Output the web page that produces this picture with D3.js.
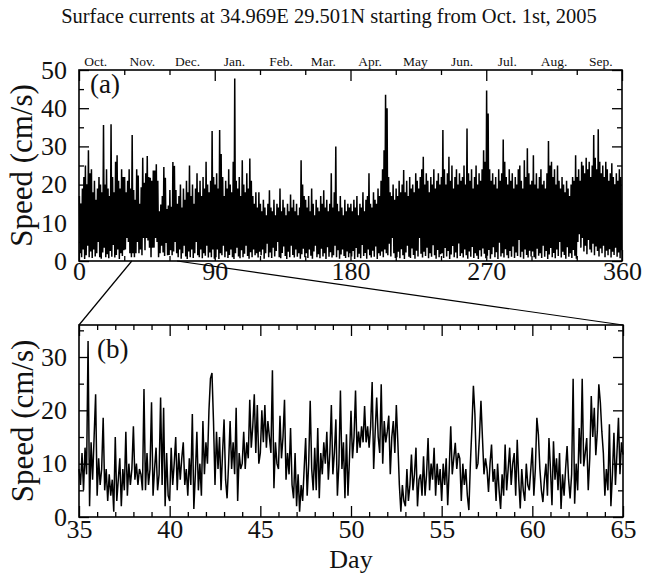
<!DOCTYPE html>
<html>
<head>
<meta charset="utf-8">
<script src="https://cdn.jsdelivr.net/npm/d3@7"></script>
<style>
  body { margin: 0; background: #fff; }
  svg text { font-family: "Liberation Serif", "Times New Roman", serif; fill: #111; }
</style>
</head>
<body>
<svg id="chart" width="645" height="574"></svg>
<script>
// month names on the top axis of panel (a), and the day each month starts
var months = ["Oct.", "Nov.", "Dec.", "Jan.", "Feb.", "Mar.", "Apr.", "May", "Jun.", "Jul.", "Aug.", "Sep."];
var monthStart = [0, 31, 61, 92, 123, 151, 182, 212, 243, 273, 304, 335];

var yearTicks = [0, 90, 180, 270, 360];
var speedTicksA = [0, 10, 20, 30, 40, 50];
var speedTicksB = [0, 10, 20, 30];
var zoomTicks = [35, 40, 45, 50, 55, 60, 65];

// panel (a): daily max and min speed (cm/s), day 0..359
var dailyHi = [
  17,15,19,22,25, 20,29,23,24,18, 21,16,19,22,20, 18,35.6,20,24,19, 17,35.8,22,18,26, 27.7,21,19,24,22,
  22,18,21,24,19, 33,18.6,16,24,22.4, 15,19.3,27,20.5,23, 27.5,22,21.8,21,23.7, 23.7,25.3,21,13,14.8, 17,24.6,21.8,13.6,14.5,
  18.6,14.2,25.9,24.9,18.6, 15,17,20,14,19, 16,21,18,25,17, 20,15,19,23,18, 21,17,22,19,26, 20,18,21,34,22,
  20,23,19,34.3,28, 22,17,21,19,24, 20,18,26,47.8,21, 19,22,17,26.4,20, 18,23,19,26.8,21, 17,15,18,14,18,
  15,13,16,14,12, 15,18.5,14,13,16, 12,15,14,19,13, 16,14,12,15,13, 17.4,14,16,13,15, 12,14,26.4,20,17,
  16,14,17,13,19, 15,12,16,14,13, 17,15,18.5,14,16, 13,15,23,14,18, 30,15,13,17,14, 12,16,13,15,14,
  15,13,16,14,17, 12,15,14,18,13, 16,17,23,15,14, 18,16,15,19,17, 21,24,29,43.5,40, 22,18,17,20,16,
  19,17,21,18,20, 23.8,18,21,17,22, 19,20,18,23,21, 19,22,24,27.3,20, 23,21,18,22,20, 24,19,21,23,20,
  22,34.3,24,20,23, 27.3,21,25,19,22, 24,20,23,21,22, 25,20,34.7,23,21, 24,19,22,25,20, 23,21,24,29,26,
  44.6,38.6,24,21,23, 20,22,19,24,21, 23,31.8,26,22,20, 24,21,23,19,22, 20,24,25,21,19, 26.4,22,29.5,23,20,
  21,27.7,20,23,19, 22,24,20,21,19, 23,31.4,25,26,22, 24,20,25,21,19, 22,20,18,21,19, 17,20,22,21,27.7,
  22,24,21,26,25, 23,27,24,26,22, 25,33,27,24,34.5, 26,23,25,22,26, 24,21,23,25.6,22, 20,23,21,24,22
];
var dailyLo = [
  2,1,3,0.5,1.5, 4,1,2.5,0.8,3, 1.2,2,5,1,0.6, 2.2,3.5,1,1.8,0.7, 2.6,1.1,4.2,0.9,1.6, 3,0.5,2,1.3,2.8,
  3,6,5,2,1, 2,1,2,5,2, 3,1.5,6,2.8,6, 5.4,3.5,1,3.5,3.5, 6,5,1,2,4, 2.2,1.3,4.7,1.5,1.6,
  2.8,1.5,2.5,5,2, 1,3,0.6,2,4, 1.2,0.5,2.5,1,3, 0.8,2,5,1.5,1, 3,0.7,2,1.4,4, 0.9,2.2,1,3,0.6,
  1,3,0.5,2,1.5, 4,1,2.5,0.8,1.6, 3,1,0.5,2,3.5, 1.2,0.7,2.8,1,1.9, 4,1.3,0.6,2.3,1, 3,1.5,2,0.9,2.4,
  1.5,3,0.6,2,4.5, 1,2.2,0.8,3.5,1.2, 2.6,5,1,0.7,2.1, 3.8,1.3,0.5,2.4,1, 4,1.6,0.9,3,1.1, 2,0.6,1.8,3.2,1,
  2,0.8,3,1.4,0.6, 2.5,4,1,1.8,0.7, 3.2,1.2,2,0.5,3.6, 1.1,2.3,0.9,1.5,4, 1,2.8,0.6,1.7,3, 1.3,0.8,2.5,1,2,
  1.2,2.6,0.5,3.4,1, 1.9,0.7,4.2,1.3,2.1, 0.6,3,1.5,0.9,2.7, 1.1,3.8,0.5,2,1.4, 2.5,1,3,2,1.5, 4.5,1.2,6,2,0.8,
  1,2.4,0.7,3.1,1.5, 0.5,2.2,4,1.1,0.8, 3.3,1.6,0.6,2.7,1.2, 6,1.9,0.9,2.4,1.3, 3.5,0.7,2,1.1,4.1, 1.5,0.6,2.9,1,1.8,
  2,0.8,3.4,1.2,2.6, 0.5,1.7,3.9,1,2.2, 0.7,4.6,1.3,2,0.9, 3,1.5,0.6,2.5,1.1, 3.7,0.8,2,1.4,0.5, 2.8,1.2,3.3,1.9,0.7,
  1.4,2.9,0.6,1.8,3.6, 1,2.3,0.5,4.8,1.2, 2,0.9,3.1,1.5,0.7, 2.6,1.1,3.8,0.8,2.2, 1.3,5.5,1,2.4,0.6, 3,1.6,0.9,2.7,1.2,
  2.5,1,0.6,3.2,1.4, 2,0.8,4,1.1,2.6, 0.5,1.7,3.4,1,2.1, 0.7,3,1.3,5,0.9, 2.4,1.6,0.6,3.6,1.1, 2,0.8,2.9,1.4,0.6,
  5,7,3.5,6,2.5, 4,1.8,5.5,3,2.2, 4.5,1.5,3.8,2.6,1.2, 3.3,2,4,1,2.7, 1.5,3.1,0.9,2.4,1.6, 3.5,1.1,2.2,0.7,2.8
];

// panel (b): 2-hourly speed from day 35 to day 65 (12 samples a day + end point)
var zoomFrom = 35, zoomTo = 65, perDay = 12;
var zoomSpeed = [
  9,6,12,5,13,8,33,2,14,7,15,23,            // 35
  4,11,6,9,18.6,5,9,3,8,4,7,1,              // 36
  15,3,7,11,2,9,5,16,4,10,6,9,              // 37
  17,7,10,6,9,8,5,24,5,12,6,9,              // 38
  21.5,4,9,13,5,8,22.4,6,20.5,2,12,4,       // 39
  3,13,6,10,15,5,12,7,11,14,6,9,            // 40
  4,11,6,19.3,1.5,8,16,5,10,4,18,8,         // 41
  14,10,20,26,27,18,6,16,9,15,5,12,         // 42
  18.3,7,3.5,10,18,9,14,8,20.5,3,12,9,      // 43
  10,16,9,14,11,22,13,17,23,12,21,10,       // 44
  12,20,14,21,13,18,15,12,27.5,5.4,14,10,   // 45
  9,19,11,15,22,7,12,8,16.7,6,3.5,12,       // 46
  2,8,1,6,3,9,14.8,4,10,21.8,9,5,           // 47
  13,5,16.7,3.5,12,8,14,10,16,7,12,21,      // 48
  8,12,18.3,4,10,23.7,9,14,3.5,15.5,4,11,   // 49
  19.9,11,15,23.7,12,16,13,17,14,20.8,14,17,// 50
  13,17,25.3,9,16,22.4,15,12,24.9,10,18,14, // 51
  16,19,8,15,18,12,21,14,6,1,6,3,           // 52
  2,9,3,6,11.7,5,8,13,2,7,8,4,              // 53
  11.4,4,8,14.8,5,10,7,13,4,10,6,9,         // 54
  3,10,6,11,2.2,9,17,8,11,13.9,9,12,        // 55
  11,3,10,6,9,4,1.3,10,16.7,24.6,19.3,9,    // 56
  10,15,21.8,14.8,8,11,9,4.7,10,13.6,6.6,9, // 57
  3,10,5,1.5,8,4,13.6,5,9,13,6,10,          // 58
  12,4,14.5,7,1.6,9,5,3,10,6,5,9,           // 59
  13,4,9,18.6,15.5,9,5,2.8,7,10,4,14.8,     // 60
  9,2.2,14.2,7,11,5,12,1.5,8,4,9,13.3,      // 61
  7,3.5,8,25.9,2.5,10,5,16.7,10,25.9,9.5,12,// 62
  14.8,5,11,22.7,15,20.5,11.6,16,24.9,21.5,16,12, // 63
  4,9,5,17.4,2,8,15.8,6,12,18.6,8,14,       // 64
  11.7
];

var svg = d3.select("#chart");
var serif = '"Liberation Serif", "Times New Roman", serif';

var xa = d3.scaleLinear().domain([0, 360]).range([79, 622]);
var ya = d3.scaleLinear().domain([0, 50]).range([261, 70]);
var xb = d3.scaleLinear().domain([zoomFrom, zoomTo]).range([79, 623]);
var yb = d3.scaleLinear().domain([0, 36]).range([517, 325]);

function range(a, b, step) { return d3.range(a, b + step / 2, step); }
function minorOf(all, major) { return all.filter(function(v) { return major.indexOf(v) < 0; }); }

// ticks on all four sides (inward), labels only on left and bottom
function frameAxes(x, y, xMajor, xMinor, yMajor, yMinor, xPad) {
  var x0 = x.range()[0], x1 = x.range()[1], y0 = y.range()[0], y1 = y.range()[1];
  function tidy(g, labelled) {
    g.attr("color", "#000").attr("font-family", null).attr("font-size", null);
    g.select(".domain").remove();
    g.selectAll(".tick line").attr("stroke-width", 1.3);
    if (labelled) g.selectAll("text").attr("font-size", 26).style("font-family", serif);
    else g.selectAll("text").remove();
  }
  function side(axis, tx, ty, labelled) {
    svg.append("g").attr("transform", "translate(" + tx + "," + ty + ")")
      .call(axis).call(function(g) { tidy(g, labelled); });
  }
  side(d3.axisBottom(x).tickValues(xMajor).tickSizeInner(-11).tickSizeOuter(0).tickPadding(xPad), 0, y0, true);
  side(d3.axisBottom(x).tickValues(xMinor).tickSizeInner(-5).tickSizeOuter(0), 0, y0, false);
  side(d3.axisTop(x).tickValues(xMajor).tickSizeInner(-11).tickSizeOuter(0), 0, y1, false);
  side(d3.axisTop(x).tickValues(xMinor).tickSizeInner(-5).tickSizeOuter(0), 0, y1, false);
  side(d3.axisLeft(y).tickValues(yMajor).tickSizeInner(-10).tickSizeOuter(0).tickPadding(12), x0, 0, true);
  side(d3.axisLeft(y).tickValues(yMinor).tickSizeInner(-5).tickSizeOuter(0), x0, 0, false);
  side(d3.axisRight(y).tickValues(yMajor).tickSizeInner(-10).tickSizeOuter(0), x1, 0, false);
  side(d3.axisRight(y).tickValues(yMinor).tickSizeInner(-5).tickSizeOuter(0), x1, 0, false);
  svg.append("rect")
    .attr("x", x0).attr("y", y1).attr("width", x1 - x0).attr("height", y0 - y1)
    .attr("fill", "none").attr("stroke", "#000").attr("stroke-width", 1.6);
}

// title
svg.append("text").attr("x", 329).attr("y", 23).attr("text-anchor", "middle")
  .attr("font-size", 20.5).text("Surface currents at 34.969E 29.501N starting from Oct. 1st, 2005");

// ---- panel (a) ----
var yearPts = [];
dailyHi.forEach(function(h, i) {
  yearPts.push([i + 0.25, h]);
  yearPts.push([i + 0.75, dailyLo[i]]);
});
svg.append("path").datum(yearPts)
  .attr("fill", "none").attr("stroke", "#000").attr("stroke-width", 1.5)
  .attr("stroke-linejoin", "bevel")
  .attr("d", d3.line().x(function(d) { return xa(d[0]); }).y(function(d) { return ya(d[1]); }));

frameAxes(xa, ya, yearTicks, minorOf(range(0, 360, 30), yearTicks),
  speedTicksA, minorOf(range(0, 50, 5), speedTicksA), 1);

svg.selectAll(".month").data(months).enter().append("text")
  .attr("class", "month")
  .attr("x", function(d, i) { return xa(monthStart[i] + 11); })
  .attr("y", 66).attr("text-anchor", "middle").attr("font-size", 13.5)
  .text(function(d) { return d; });

svg.append("text").attr("x", 90).attr("y", 93).attr("font-size", 27).text("(a)");
svg.append("text").attr("transform", "translate(32," + ((70 + 261) / 2) + ") rotate(-90)")
  .attr("text-anchor", "middle").attr("font-size", 31).text("Speed (cm/s)");

// zoom connectors
[zoomFrom, zoomTo].forEach(function(d) {
  svg.append("line")
    .attr("x1", xa(d)).attr("y1", ya(0)).attr("x2", xb(d)).attr("y2", yb(36))
    .attr("stroke", "#000").attr("stroke-width", 1.2);
});

// ---- panel (b) ----
svg.append("path").datum(zoomSpeed)
  .attr("fill", "none").attr("stroke", "#000").attr("stroke-width", 1.5)
  .attr("stroke-linejoin", "bevel")
  .attr("d", d3.line()
    .x(function(d, i) { return xb(zoomFrom + i / perDay); })
    .y(function(d) { return yb(d); }));

frameAxes(xb, yb, zoomTicks, minorOf(range(35, 65, 1), zoomTicks),
  speedTicksB, minorOf(range(0, 35, 5), speedTicksB), 3);

svg.append("text").attr("x", 97).attr("y", 358).attr("font-size", 27).text("(b)");
svg.append("text").attr("transform", "translate(33," + ((325 + 517) / 2) + ") rotate(-90)")
  .attr("text-anchor", "middle").attr("font-size", 31).text("Speed (cm/s)");
svg.append("text").attr("x", 351).attr("y", 568).attr("text-anchor", "middle")
  .attr("font-size", 26).text("Day");
</script>
</body>
</html>
